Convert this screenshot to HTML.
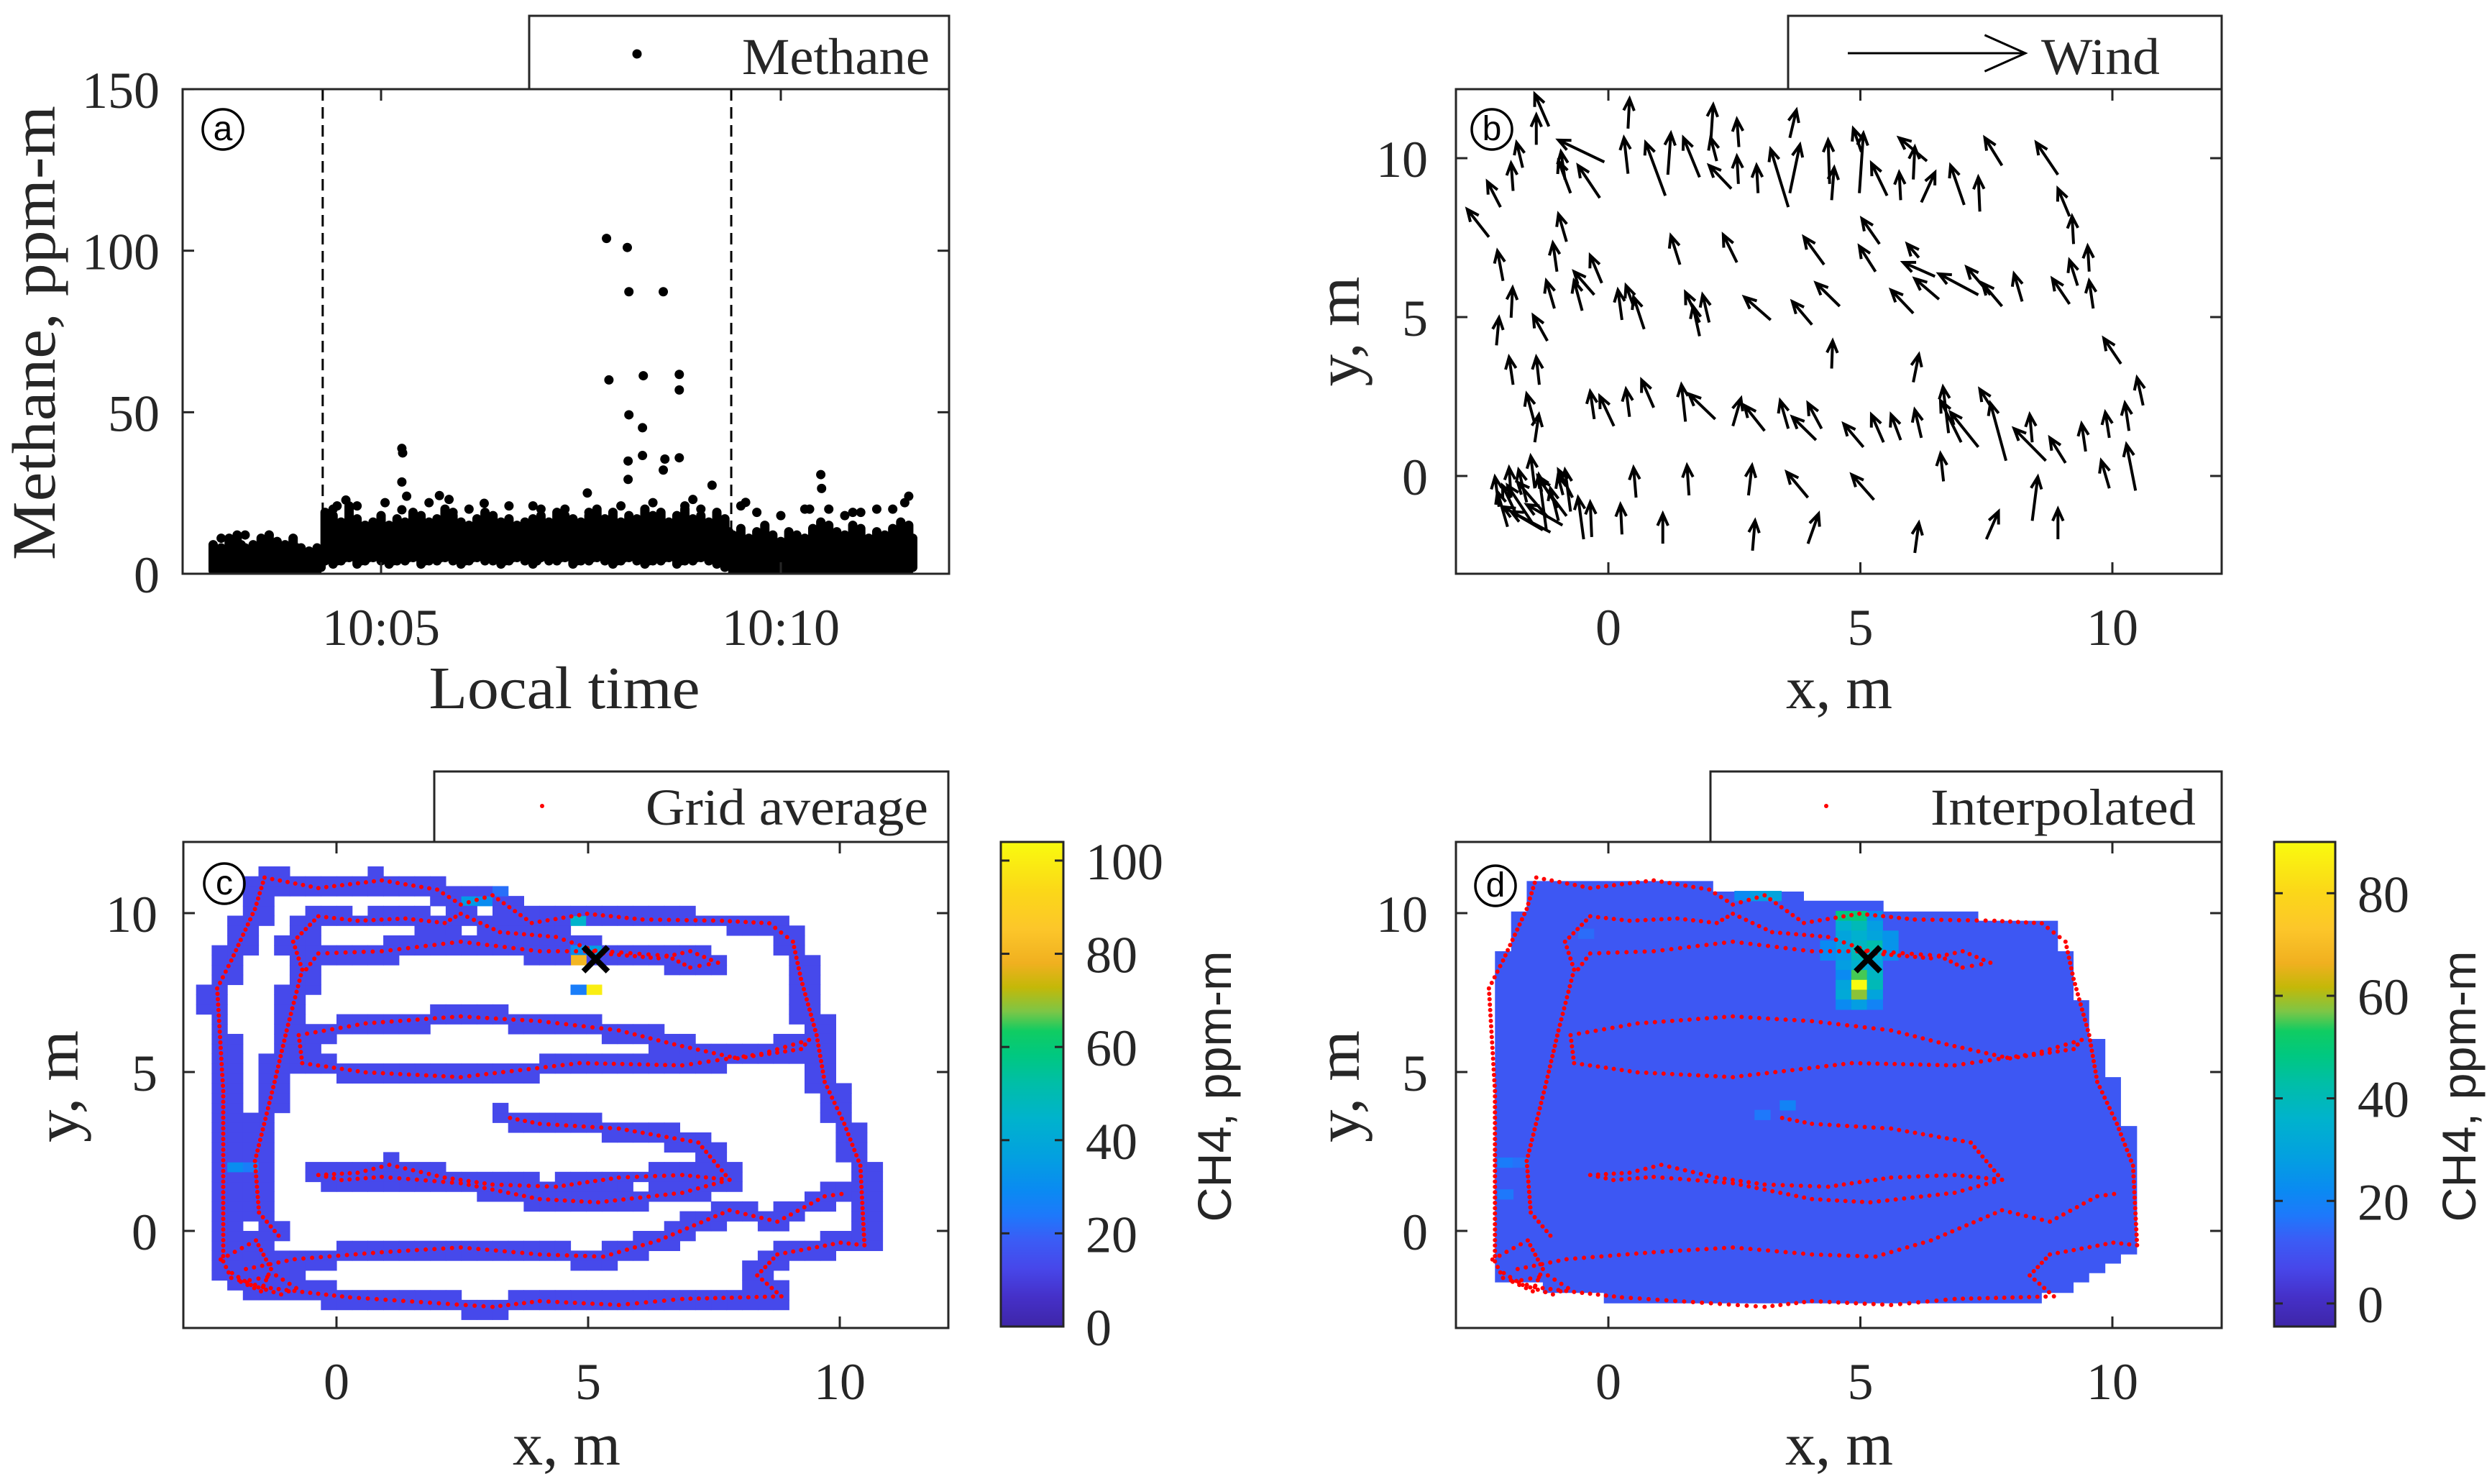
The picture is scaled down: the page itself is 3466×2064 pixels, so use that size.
<!DOCTYPE html>
<html><head><meta charset="utf-8"><style>
html,body{margin:0;padding:0;background:#fff;}
svg{display:block;}
text{font-family:"Liberation Serif",serif;fill:#262626;}
.sans{font-family:"Liberation Sans",sans-serif;}
</style></head><body>
<svg id="fig" xmlns="http://www.w3.org/2000/svg" width="3466" height="2064" viewBox="0 0 3466 2064">
<rect width="3466" height="2064" fill="#fff"/>
<defs>
<clipPath id="clipA"><rect x="254" y="124" width="1066" height="674"/></clipPath>
<clipPath id="clipB"><rect x="2025" y="124" width="1065" height="674"/></clipPath>
<clipPath id="clipC"><rect x="255" y="1171" width="1064" height="676"/></clipPath>
<clipPath id="clipD"><rect x="2025" y="1171" width="1065" height="676"/></clipPath>
<linearGradient id="parulaC" x1="0" y1="1" x2="0" y2="0"></linearGradient>
<linearGradient id="parulaD" x1="0" y1="1" x2="0" y2="0"></linearGradient>
</defs>
<g id="panelA"></g>
<g id="panelB"></g>
<g id="panelC"></g>
<g id="panelD"></g>
</svg>
<script>
// ---------- Panel (a) data: minutes after 10:00 ----------
const bandStart = 2.9;
const bandStep = 0.1;
const bandHigh = [9,8,11,12,8,9,11,12,10,9,11,8,7,8,
 19,18,16,21,17,15,16,18,15,17,16,19,18,16,17,20,18,16,15,17,19,18,16,17,15,16,17,18,16,19,18,17,16,18,20,17,19,16,18,17,20,18,19,16,18,20,17,18,16,19,17,
 12,14,11,13,15,12,10,13,12,11,14,16,15,13,12,15,14,11,13,12,14,16,15];
const bandLow = [1,0,1,0,0,1,0,0,1,0,0,1,0,1,
 4,3,4,5,3,4,5,4,3,4,4,5,3,4,4,5,4,3,4,5,4,4,3,4,5,4,3,5,4,4,5,3,4,4,5,4,3,4,5,4,3,4,4,5,3,4,4,5,4,3,2,
 0,1,0,1,0,0,1,0,0,1,0,0,1,0,1,0,0,1,0,0,1,0,1];
const bandMid = [6,5,7,9,5,6,8,7,6,6,8,5,5,6,
 14,13,12,16,13,11,12,14,12,13,12,14,13,12,13,15,13,12,11,13,14,13,12,13,11,12,13,14,12,14,13,13,12,14,15,13,14,12,13,13,15,13,14,12,14,15,13,14,12,14,13,
 8,10,7,9,11,8,7,9,8,8,10,12,11,9,8,11,10,8,9,8,10,12,11];
const outlierT = [7.82,8.08,8.10,8.53,7.85,8.28,8.73,8.73,8.10,8.27,8.27,8.09,8.53,8.55,8.73,8.09,9.14,7.58,5.26,5.27,5.26,5.32,5.26,4.56,10.50,10.51,11.6,9.56,6.29,5.73,10.36,5.05,5.85,6.9,7.3,8.9,9.7,10.9,11.2,4.45,3.3,4.4,4.7,5.6,5.9,6.1,6.6,7.0,7.6,8.0,8.4,8.8,9.0,9.5,10.0,10.3,10.6,10.8,11.0,11.4,11.55,3.0,3.6];
const outlierV = [103.8,101,87.3,87.3,60,61.3,61.7,56.9,49.2,45.2,36.6,34.9,32.1,35.5,35.9,29.2,27.4,25,38.8,37.4,28.4,24,19.8,22.8,30.7,26.4,24,22.1,21.8,24.2,20,22,23,21,20,23,19,19,20,21,12,20,21,22,19,20,21,20,19,21,22,21,20,21,18,20,20,18,19,20,22,11,12];
const dashedT = [4.27, 9.38];
const aYTicks = [0,50,100,150];
const aXTicks = [5,10];
const aXTickLabels = ["10:05","10:10"];

// ---------- Panel (b) wind quiver: tail x,y (m) and vector u,v (m) ----------
const windX = [-1.18,-1.43,0.39,2.03,2.59,3.6,-1.7,-0.08,0.39,1.13,1.18,1.81,2.15,3.57,3.6,4.39,5.02,4.98,6.32,6.05,6.21,7.81,7.06,7.37,8.92,9.15,9.23,-2.14,-1.89,-0.86,-0.75,-0.17,-2.37,-0.83,2.44,2.97,4.43,5.53,5.8,2.58,
 -2.09,-1.02,-0.13,1.42,2.55,4.28,5.3,5.38,6.16,6.48,6.56,7.34,7.58,7.81,8.21,9.15,9.31,9.54,9.62,4.59,-1.07,-0.28,-0.52,0.27,0.5,0.71,1.81,2.0,1.81,3.22,4.04,6.05,-1.93,-2.22,-1.21,-1.89,-1.37,4.43,6.05,10.17,
 -1.46,-0.28,0.11,0.42,0.9,1.53,2.12,2.47,3.1,3.57,4.12,4.23,5.06,5.46,5.8,6.21,6.75,7.0,7.34,7.63,7.89,8.68,8.41,9.07,9.47,9.94,10.33,10.61,-1.46,
 0.55,1.6,2.78,3.96,5.27,6.65,8.41,9.94,10.46,0.27,1.08,2.86,3.96,6.08,7.5,8.92,
 -2.17,-1.93,-1.62,-1.46,-1.23,-0.99,-0.75,-0.49,-0.33,-1.3,-1.15,-0.91,-0.83,-0.71,-1.5,-1.8,-1.0,-2.0,-1.2,-0.9];
const windY = [11.0,10.42,10.93,10.49,10.35,10.64,9.7,9.88,9.51,8.82,9.48,9.4,9.91,8.46,8.9,9.19,10.2,8.9,9.91,9.33,8.61,9.77,8.53,8.32,9.48,8.17,7.3,8.46,8.97,9.33,8.9,8.75,7.52,7.37,9.04,8.9,8.68,8.82,8.68,9.19,
 6.14,6.43,6.07,6.65,6.72,6.65,6.43,7.3,6.87,6.28,5.56,5.7,5.7,5.34,5.49,5.41,5.99,6.43,5.27,5.34,5.27,5.7,5.2,4.91,5.34,4.62,4.83,4.83,4.4,4.91,4.76,5.12,4.98,4.11,4.25,2.87,2.87,3.38,2.95,3.53,
 1.64,1.79,1.57,1.86,2.15,1.71,1.79,1.57,1.42,1.49,1.13,1.49,0.91,1.06,1.13,1.2,1.35,1.06,0.91,2.08,0.48,0.48,1.06,0.41,0.77,1.2,1.42,2.22,1.06,
 -0.68,-0.61,-0.61,-0.68,-0.75,-0.17,-1.41,-0.39,-0.46,-1.84,-2.13,-2.35,-2.13,-2.42,-1.99,-1.99,
 -0.97,-0.68,-0.83,-0.39,-1.7,-1.41,-1.12,-1.99,-1.92,-1.7,-1.77,-1.55,-1.26,-0.68,-1.5,-1.3,-1.0,-1.6,-1.3,-0.6];
const windU = [-0.28,0,0.03,0.05,-0.04,0.13,-0.12,-0.91,-0.08,-0.39,0.06,-0.32,-0.12,-0.35,0.2,-0.03,-0.16,0.08,-0.55,0.03,0.27,-0.34,-0.27,-0.03,-0.43,-0.23,-0.03,-0.26,-0.04,-0.08,-0.24,-0.43,-0.43,-0.16,-0.44,-0.03,0.05,-0.31,-0.03,-0.03,
 -0.11,-0.08,-0.23,-0.18,-0.27,-0.4,-0.32,-0.35,-0.23,-0.63,-0.48,-0.78,-0.47,-0.39,-0.16,-0.34,-0.16,-0.03,-0.08,-0.47,-0.16,-0.4,-0.16,-0.08,-0.15,-0.21,-0.28,-0.13,-0.13,-0.52,-0.39,-0.44,0.03,0.05,-0.28,-0.08,-0.06,0.02,0.11,-0.34,
 -0.16,-0.08,-0.28,-0.07,-0.24,-0.08,-0.52,0.16,-0.4,-0.16,-0.47,-0.27,-0.39,-0.24,-0.19,-0.13,-0.11,-0.41,-0.55,-0.26,-0.31,-0.63,-0.05,-0.31,-0.08,-0.08,-0.08,-0.12,0.08,
 -0.05,-0.04,0.07,-0.42,-0.44,-0.06,0.11,-0.16,-0.18,-0.03,0,0.05,0.21,0.08,0.24,0,
 -0.08,-0.04,-0.16,-0.08,-0.15,-0.16,-0.11,-0.11,-0.03,-0.79,-0.78,-0.71,-0.55,-0.28,-0.5,-0.3,-0.4,-0.2,-0.6,-0.1];
const windV = [1.02,0.94,0.94,1.19,0.87,0.87,0.79,0.69,1.13,1.67,1.3,1.24,0.73,1.82,1.52,1.38,0.73,1.88,0.73,1.02,0.94,0.87,1.24,1.08,1.01,0.87,0.87,0.8,0.87,0.87,1.01,1.02,0.87,0.87,0.73,0.87,1.02,1.02,0.87,0.87,
 0.94,0.9,0.87,0.91,0.87,0.87,0.8,0.8,0.43,0.44,0.65,0.66,0.87,0.73,0.87,0.8,0.8,0.8,0.87,0.73,0.87,0.73,0.94,0.94,0.65,1.01,0.95,0.87,0.94,0.72,0.73,0.73,0.94,0.87,0.8,0.87,0.87,0.87,0.87,0.8,
 0.94,0.87,0.94,0.87,0.87,1.16,0.79,0.87,0.8,0.88,0.73,0.8,0.73,0.87,0.8,0.88,1.45,1.31,1.09,0.65,1.81,1.01,0.87,0.79,0.87,0.8,0.87,0.87,0.87,
 0.94,0.94,0.94,0.8,0.79,0.87,1.38,0.87,1.45,0.94,0.94,0.94,0.94,0.94,0.87,0.95,
 0.94,0.94,1.02,1.01,1.74,1.02,1.31,1.31,1.09,0.73,0.65,0.65,1.16,0.87,1.2,1.0,1.0,1.1,1.1,0.6];
const xyTicks = [0,5,10];

// ---------- Track loops (m) ----------
const loopOuterX = [-2.25,-2.25,-2.37,-2.09,-1.62,-1.43,-0.36,0.9,2.0,2.47,3.1,3.88,4.98,6.08,7.66,8.6,9.07,9.23,9.54,9.7,10.09,10.41,10.49,10.02,8.76,8.36,8.84,6.87,5.61,4.04,3.1,1.68,0.27,-0.68,-1.46,-2.09,-2.25];
const loopOuterY = [-0.96,4.4,7.63,8.51,10.13,11.12,10.79,11.03,10.74,10.27,10.56,9.69,9.98,9.8,9.76,9.68,9.1,7.93,6.16,4.69,3.37,2.05,-0.45,-0.37,-0.74,-1.4,-2.06,-2.14,-2.33,-2.21,-2.39,-2.24,-2.09,-1.92,-1.77,-1.48,-0.96];
const loopTopX = [-1.15,-1.54,-1.62,-1.23,-0.99,-0.68,-0.86,-0.36,0.42,1.37,2.15,2.47,3.25,4.36,5.3,6.4,7.03,7.58,7.03,6.56,5.3,4.04,2.47,0.9,-0.36,-0.68];
const loopTopY = [-0.15,0.58,2.2,4.69,6.31,8.22,9.1,9.9,9.76,9.83,9.69,9.98,9.4,9.25,8.73,8.58,8.8,8.44,8.29,8.66,8.8,8.8,9.1,8.8,8.73,8.07];
const loopMidX = [-0.75,0.58,2.47,4.04,5.61,6.71,7.97,9.23,9.39,8.44,6.87,4.83,2.47,0.58,-0.68,-0.75];
const loopMidY = [6.16,6.53,6.75,6.6,6.31,5.87,5.43,5.72,6.01,5.57,5.21,5.28,4.84,4.99,5.28,6.16];
const loopLowX = [-0.36,0.42,1.05,2.15,3.1,4.36,5.61,6.87,7.81,7.19,5.61,4.04,3.3];
const loopLowY = [1.76,1.83,2.08,1.68,1.46,1.39,1.68,1.76,1.61,2.78,3.22,3.37,3.6];
const loopLow2X = [7.81,6.87,5.2,4.04,2.47,0.9,0.1,-0.36];
const loopLow2Y = [1.61,1.2,0.9,1.0,1.5,1.7,1.6,1.76];
const loopBottomX = [-1.8,-0.83,0.9,2.47,4.04,5.3,6.4,7.81,8.76,9.7,10.2];
const loopBottomY = [-1.2,-0.89,-0.67,-0.52,-0.74,-0.81,-0.3,0.65,0.29,1.09,1.2];
const loopKnotX = [-2.3,-1.6,-1.3,-1.5,-1.9,-1.2,-0.8,-1.1,-1.7,-2.2];
const loopKnotY = [-0.9,-0.3,-1.2,-1.9,-1.6,-1.4,-1.8,-2.0,-1.7,-1.2];
const sourceX = 5.15, sourceY = 8.55;

// ---------- Grid average (c) hot cells ----------
const cHotX = [4.65,4.95,2.7,3.0,4.65,4.95,5.25,4.65,5.0,4.7,-1.9,-1.6,3.3];
const cHotY = [9.9,9.9,10.5,10.5,8.55,8.85,8.85,8.85,7.45,7.45,2.1,2.1,10.6];
const cHotV = [55,45,35,30,80,40,35,30,100,25,30,25,22];
const cBaseValue = 13;
const cTicks = [0,20,40,60,80,100];

// ---------- Interpolated (d) ----------
const fieldOutlineX = [-1.62,2.08,2.08,3.88,3.88,5.46,5.46,7.34,7.34,8.92,8.92,9.23,9.23,9.54,9.54,9.86,9.86,10.17,10.17,10.49,10.49,10.17,10.17,9.86,9.86,9.54,9.54,9.23,9.23,8.6,8.6,-0.09,-0.09,-1.3,-1.3,-2.25,-2.25,-2.25,-1.93,-1.93,-1.62];
const fieldOutlineY = [11.01,11.01,10.68,10.68,10.39,10.39,10.05,10.05,9.76,9.76,8.8,8.8,7.26,7.26,6.04,6.04,4.84,4.84,3.3,3.3,-0.74,-0.74,-1.03,-1.03,-1.33,-1.33,-1.62,-1.62,-1.95,-1.95,-2.28,-2.28,-1.95,-1.95,-1.62,-1.62,-1.33,8.8,8.8,10.05,10.05];
const fieldBase = 11;
const dHotX = [4.51,4.82,5.13, 4.51,4.82,5.13, 4.51,4.82,5.13, 4.51,4.82,5.13, 4.51,4.82,5.13, 4.51,4.82,5.13, 4.51,4.82,5.13, 4.51,4.82,5.13, 4.51,4.82,5.13, 4.51,4.82,5.13, 4.2,4.2,5.44,5.44,5.44,2.5,2.81,3.12,-2.2,-1.9,-2.2,3.4,2.9,-0.6];
const dHotY = [9.76,9.76,9.76, 9.45,9.45,9.45, 9.14,9.14,9.14, 8.83,8.83,8.83, 8.52,8.52,8.52, 8.21,8.21,8.21, 7.9,7.9,7.9, 7.59,7.59,7.59, 7.28,7.28,7.28, 6.97,6.97,6.97, 8.83,8.52,9.14,8.83,8.52,10.39,10.39,10.39,2.0,2.0,1.0,3.8,3.5,9.2];
const dHotV = [48,50,22, 35,40,28, 30,35,30, 28,38,42, 25,40,35, 28,35,30, 22,55,38, 30,90,40, 32,58,30, 22,28,20, 22,22,25,25,22,22,28,30,18,16,17,20,17,15];
const dTicks = [0,20,40,60,80];

// ---------- colormap ----------
const cmStops = [[0,"#3e26a8"],[0.06,"#4530c8"],[0.12,"#4747ea"],[0.18,"#3a5df6"],[0.23,"#1d79fb"],[0.28,"#0a8af2"],[0.35,"#03a0e0"],[0.43,"#00b3cc"],[0.5,"#00bea8"],[0.56,"#00c880"],[0.61,"#10cc62"],[0.65,"#7cc646"],[0.7,"#c4b808"],[0.75,"#f0b020"],[0.82,"#fcc62a"],[0.9,"#fbd818"],[1,"#f9fb0e"]];
function hex2rgb(h){return [parseInt(h.slice(1,3),16),parseInt(h.slice(3,5),16),parseInt(h.slice(5,7),16)];}
function parula(t){t=Math.max(0,Math.min(1,t));for(let i=1;i<cmStops.length;i++){if(t<=cmStops[i][0]){const a=cmStops[i-1],b=cmStops[i];const f=(t-a[0])/(b[0]-a[0]);const ca=hex2rgb(a[1]),cb=hex2rgb(b[1]);return "rgb("+ca.map((v,k)=>Math.round(v+(cb[k]-v)*f)).join(",")+")";}}return cmStops[cmStops.length-1][1];}

const NS="http://www.w3.org/2000/svg";
function el(tag,attrs,parent){const e=document.createElementNS(NS,tag);for(const k in attrs)e.setAttribute(k,attrs[k]);parent.appendChild(e);return e;}
function txt(s,attrs,parent){const e=el("text",attrs,parent);e.textContent=s;return e;}

["parulaC","parulaD"].forEach(id=>{const g=document.getElementById(id);cmStops.forEach(s=>{el("stop",{offset:s[0],"stop-color":s[1]},g);});});

const AX="#262626";
function axesBox(g,x0,y0,x1,y1,name){
  const r=el("rect",{x:x0,y:y0,width:x1-x0,height:y1-y0,fill:"none",stroke:AX,"stroke-width":3},g);
  
  
}
function xTick(g,x,y0,y1){el("line",{x1:x,x2:x,y1:y1,y2:y1-16,stroke:AX,"stroke-width":3},g);el("line",{x1:x,x2:x,y1:y0,y2:y0+16,stroke:AX,"stroke-width":3},g);}
function yTick(g,y,x0,x1){el("line",{x1:x0,x2:x0+16,y1:y,y2:y,stroke:AX,"stroke-width":3},g);el("line",{x1:x1,x2:x1-16,y1:y,y2:y,stroke:AX,"stroke-width":3},g);}
function legendBox(g,x0,y0,x1,y1,name){
  const r=el("rect",{x:x0,y:y0,width:x1-x0,height:y1-y0,fill:"#fff",stroke:AX,"stroke-width":3},g);
  
  
}
function panelTag(g,cx,cy,letter,name){
  const c=el("circle",{cx:cx,cy:cy,r:28,fill:"none",stroke:"#000","stroke-width":3.5},g);
  
  
  const t=txt(letter,{x:cx,y:cy+15,"text-anchor":"middle","font-size":48,"class":"sans",style:"fill:#000"},g);
  
  
}
function label(g,s,attrs,name){const t=txt(s,attrs,g);return t;}

// ================= Panel A =================
(function(){
  const g=document.getElementById("panelA");
  const L=254,R=1320,T=124,B=798;
  const tx=t=>530+(t-5)*111.2;
  const vy=v=>798-v*4.493;
  const data=el("g",{"clip-path":"url(#clipA)"},g);
  bandHigh.forEach((h,i)=>{
    const t=bandStart+i*bandStep;
    const ln=el("line",{x1:tx(t),x2:tx(t),y1:vy(bandLow[i]),y2:vy(h),stroke:"#000","stroke-width":13,"stroke-linecap":"round"},data);
    
    
    const ln2=el("line",{x1:tx(t+bandStep/2),x2:tx(t+bandStep/2),y1:vy(bandLow[i]+1),y2:vy(bandMid[i]),stroke:"#000","stroke-width":13,"stroke-linecap":"round"},data);
    
    
  });
  outlierT.forEach((t,i)=>{
    const c=el("circle",{cx:tx(t),cy:vy(outlierV[i]),r:6.5,fill:"#000"},data);
    
    
  });
  dashedT.forEach(t=>{
    const d=el("line",{x1:tx(t),x2:tx(t),y1:T,y2:B,stroke:"#000","stroke-width":3,"stroke-dasharray":"16,9"},g);
    
    
  });
  axesBox(g,L,T,R,B,"axes-a");
  aYTicks.forEach(v=>{yTick(g,vy(v),L,R);label(g,String(v),{x:222,y:vy(v)+26,"text-anchor":"end","font-size":72},"y-tick-label");});
  aXTicks.forEach((t,i)=>{xTick(g,tx(t),T,B);label(g,aXTickLabels[i],{x:tx(t),y:897,"text-anchor":"middle","font-size":72},"x-tick-label");});
  label(g,"Methane, ppm-m",{x:0,y:0,"text-anchor":"middle","font-size":86,textLength:632,lengthAdjust:"spacingAndGlyphs",transform:"translate(76,463) rotate(-90)"},"y-axis-title");
  label(g,"Local time",{x:785,y:985,"text-anchor":"middle","font-size":84,textLength:377,lengthAdjust:"spacingAndGlyphs"},"x-axis-title");
  legendBox(g,736,22,1320,124,"legend-methane");
  const ld=el("circle",{cx:886,cy:75,r:6.5,fill:"#000"},g);
  
  
  label(g,"Methane",{x:1293,y:103,"text-anchor":"end","font-size":72,textLength:261,lengthAdjust:"spacingAndGlyphs"},"legend-label");
  panelTag(g,310,180,"a","panel-label-a");
})();

// ================= Panel B =================
function arrow(parent,x1,y1,x2,y2,w,hl){
  const a=Math.atan2(y2-y1,x2-x1),s=0.42;
  const p=`M${x1},${y1}L${x2},${y2}M${x2-hl*Math.cos(a-s)},${y2-hl*Math.sin(a-s)}L${x2},${y2}L${x2-hl*Math.cos(a+s)},${y2-hl*Math.sin(a+s)}`;
  return el("path",{d:p,stroke:"#000","stroke-width":w,fill:"none","stroke-linejoin":"miter"},parent);
}
(function(){
  const g=document.getElementById("panelB");
  const L=2025,R=3090,T=124,B=798;
  const X=x=>2237+x*70.1, Y=y=>662-y*44.2;
  const data=el("g",{"clip-path":"url(#clipB)"},g);
  windX.forEach((x,i)=>{
    const p=arrow(data,X(x),Y(windY[i]),X(x+windU[i]),Y(windY[i]+windV[i]),4,18);
    
    
  });
  axesBox(g,L,T,R,B,"axes-b");
  xyTicks.forEach(v=>{xTick(g,X(v),T,B);label(g,String(v),{x:X(v),y:897,"text-anchor":"middle","font-size":72},"x-tick-label");});
  xyTicks.forEach(v=>{yTick(g,Y(v),L,R);label(g,String(v),{x:1986,y:Y(v)+26,"text-anchor":"end","font-size":72},"y-tick-label");});
  label(g,"y, m",{x:0,y:0,"text-anchor":"middle","font-size":86,textLength:153,lengthAdjust:"spacingAndGlyphs",transform:"translate(1890,461) rotate(-90)"},"y-axis-title");
  label(g,"x, m",{x:2558,y:985,"text-anchor":"middle","font-size":84,textLength:148,lengthAdjust:"spacingAndGlyphs"},"x-axis-title");
  legendBox(g,2487,22,3090,124,"legend-wind");
  const la=arrow(g,2570,74,2817,74,3,62);
  
  
  label(g,"Wind",{x:3004,y:103,"text-anchor":"end","font-size":72,textLength:165,lengthAdjust:"spacingAndGlyphs"},"legend-label");
  panelTag(g,2075,180,"b","panel-label-b");
})();

// ---------- track helpers ----------
const loops=[[loopOuterX,loopOuterY],[loopTopX,loopTopY],[loopMidX,loopMidY],[loopLowX,loopLowY],[loopLow2X,loopLow2Y],[loopBottomX,loopBottomY],[loopKnotX,loopKnotY]];
function sampleTrack(step){
  const pts=[];
  loops.forEach(([xs,ys])=>{
    for(let i=0;i<xs.length-1;i++){
      const dx=xs[i+1]-xs[i],dy=ys[i+1]-ys[i],len=Math.hypot(dx,dy),n=Math.max(1,Math.round(len/step));
      for(let k=0;k<n;k++)pts.push([xs[i]+dx*k/n,ys[i]+dy*k/n]);
    }
  });
  return pts;
}
function drawTrackDots(parent,X,Y){
  sampleTrack(0.17).forEach(p=>{
    const c=el("circle",{cx:X(p[0]),cy:Y(p[1]),r:3,fill:"#ff0000"},parent);
    
    
  });
}
function drawSource(parent,X,Y){
  const x=X(sourceX),y=Y(sourceY),s=17;
  const p=el("path",{d:`M${x-s},${y-s}L${x+s},${y+s}M${x-s},${y+s}L${x+s},${y-s}`,stroke:"#000","stroke-width":8},parent);
  
  
}
function colorbar(g,x0,x1,y0,y1,grad,ticks,vy,labX,titleX,name){
  const r=el("rect",{x:x0,y:y0,width:x1-x0,height:y1-y0,fill:`url(#${grad})`,stroke:AX,"stroke-width":3},g);
  
  
  ticks.forEach(v=>{
    el("line",{x1:x1,x2:x1-12,y1:vy(v),y2:vy(v),stroke:AX,"stroke-width":3},g);
    el("line",{x1:x0,x2:x0+12,y1:vy(v),y2:vy(v),stroke:AX,"stroke-width":3},g);
    label(g,String(v),{x:labX,y:vy(v)+26,"font-size":72},"colorbar-tick-label");
  });
  label(g,"CH4, ppm-m",{x:0,y:0,"text-anchor":"middle","font-size":66,"class":"sans",textLength:377,lengthAdjust:"spacingAndGlyphs",transform:`translate(${titleX},1511) rotate(-90)`},"colorbar-title");
}

// ================= Panel C =================
(function(){
  const g=document.getElementById("panelC");
  const L=255,R=1319,T=1171,B=1847;
  const X=x=>468+x*70, Y=y=>1712-y*44.2;
  const cs=0.31;
  const cmin=0,cmax=104;
  const data=el("g",{"clip-path":"url(#clipC)"},g);
  const cells=new Map();
  sampleTrack(0.05).forEach(p=>{
    [[0,0],[0.14,0],[-0.14,0],[0,0.14],[0,-0.14]].forEach(o=>{
      const i=Math.floor((p[0]+o[0])/cs),j=Math.floor((p[1]+o[1])/cs);
      cells.set(i+","+j,cBaseValue);
    });
  });
  cHotX.forEach((x,k)=>{cells.set(Math.floor(x/cs)+","+Math.floor(cHotY[k]/cs),cHotV[k]);});
  cells.forEach((v,key)=>{
    const [i,j]=key.split(",").map(Number);
    const r=el("rect",{x:X(i*cs),y:Y((j+1)*cs),width:cs*70+0.6,height:cs*44.2+0.6,fill:parula((v-cmin)/(cmax-cmin))},data);
    
    
  });
  drawTrackDots(data,X,Y);
  drawSource(data,X,Y);
  axesBox(g,L,T,R,B,"axes-c");
  xyTicks.forEach(v=>{xTick(g,X(v),T,B);label(g,String(v),{x:X(v),y:1946,"text-anchor":"middle","font-size":72},"x-tick-label");});
  xyTicks.forEach(v=>{yTick(g,Y(v),L,R);label(g,String(v),{x:219,y:Y(v)+26,"text-anchor":"end","font-size":72},"y-tick-label");});
  label(g,"y, m",{x:0,y:0,"text-anchor":"middle","font-size":86,textLength:156,lengthAdjust:"spacingAndGlyphs",transform:"translate(108,1511) rotate(-90)"},"y-axis-title");
  label(g,"x, m",{x:788,y:2037,"text-anchor":"middle","font-size":84,textLength:150,lengthAdjust:"spacingAndGlyphs"},"x-axis-title");
  legendBox(g,604,1073,1319,1171,"legend-grid-average");
  const ld=el("circle",{cx:754,cy:1121,r:3,fill:"#ff0000"},g);
  
  
  label(g,"Grid average",{x:1291,y:1147,"text-anchor":"end","font-size":72,textLength:393,lengthAdjust:"spacingAndGlyphs"},"legend-label");
  panelTag(g,312,1229,"c","panel-label-c");
  colorbar(g,1392,1479,1171,1845,"parulaC",cTicks,v=>1845-(v-cmin)*(674/(cmax-cmin)),1510,1712,"colorbar-c");
})();

// ================= Panel D =================
(function(){
  const g=document.getElementById("panelD");
  const L=2025,R=3090,T=1171,B=1847;
  const X=x=>2237+x*70.1, Y=y=>1712-y*44.2;
  const dmin=-4.5,dmax=90;
  const cs=0.31;
  const data=el("g",{"clip-path":"url(#clipD)"},g);
  const pts=fieldOutlineX.map((x,i)=>X(x)+","+Y(fieldOutlineY[i])).join(" ");
  const f=el("polygon",{points:pts,fill:parula((fieldBase-dmin)/(dmax-dmin))},data);
  
  
  dHotX.forEach((x,k)=>{
    const r=el("rect",{x:X(x),y:Y(dHotY[k]+cs),width:cs*70.1+0.6,height:cs*44.2+0.6,fill:parula((dHotV[k]-dmin)/(dmax-dmin))},data);
    
    
  });
  drawTrackDots(data,X,Y);
  drawSource(data,X,Y);
  axesBox(g,L,T,R,B,"axes-d");
  xyTicks.forEach(v=>{xTick(g,X(v),T,B);label(g,String(v),{x:X(v),y:1946,"text-anchor":"middle","font-size":72},"x-tick-label");});
  xyTicks.forEach(v=>{yTick(g,Y(v),L,R);label(g,String(v),{x:1986,y:Y(v)+26,"text-anchor":"end","font-size":72},"y-tick-label");});
  label(g,"y, m",{x:0,y:0,"text-anchor":"middle","font-size":86,textLength:156,lengthAdjust:"spacingAndGlyphs",transform:"translate(1890,1511) rotate(-90)"},"y-axis-title");
  label(g,"x, m",{x:2558,y:2037,"text-anchor":"middle","font-size":84,textLength:150,lengthAdjust:"spacingAndGlyphs"},"x-axis-title");
  legendBox(g,2379,1073,3090,1171,"legend-interpolated");
  const ld=el("circle",{cx:2540,cy:1121,r:3,fill:"#ff0000"},g);
  
  
  label(g,"Interpolated",{x:3054,y:1147,"text-anchor":"end","font-size":72,textLength:369,lengthAdjust:"spacingAndGlyphs"},"legend-label");
  panelTag(g,2080,1232,"d","panel-label-d");
  colorbar(g,3163,3248,1171,1845,"parulaD",dTicks,v=>1845-(v-dmin)*(674/(dmax-dmin)),3279,3443,"colorbar-d");
})();
</script>
</body></html>
